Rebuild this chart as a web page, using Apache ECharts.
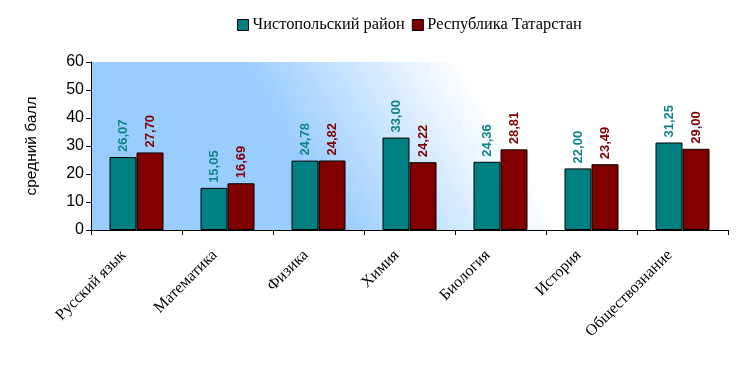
<!DOCTYPE html>
<html><head><meta charset="utf-8">
<script src="https://cdn.jsdelivr.net/npm/echarts@6/dist/echarts.min.js"></script>
<style>html,body{margin:0;padding:0;background:#fff}#c{width:747px;height:365px}</style>
</head><body><div id="c"></div>
<script>
const categories = ['Русский язык','Математика','Физика','Химия','Биология','История','Обществознание'];
const seriesNames = ['Чистопольский район','Республика Татарстан'];
const districtValues = [26.07, 15.05, 24.78, 33.00, 24.36, 22.00, 31.25];
const republicValues = [27.70, 16.69, 24.82, 24.22, 28.81, 23.49, 29.00];
const yTicks = [0, 10, 20, 30, 40, 50, 60];

const chart = echarts.init(document.getElementById('c'));
const fmt = p => p.value.toFixed(2).replace('.', ',');
function mk(name, data, color, labelColor) {
  return {
    name, type: 'bar', data,
    barWidth: 27, barGap: '0%',
    itemStyle: { color, borderColor: '#000', borderWidth: 1 },
    label: { show: true, position: 'top', rotate: 90, align: 'left', verticalAlign: 'middle', distance: 5,
      formatter: fmt, color: labelColor, fontFamily: 'Liberation Sans', fontWeight: 'bold', fontSize: 13 }
  };
}
chart.setOption({
  animation: false,
  legend: {
    top: 17, left: 237, padding: 0, itemWidth: 11, itemHeight: 11, itemGap: 7,
    icon: 'rect',
    itemStyle: { borderColor: '#000', borderWidth: 1 },
    textStyle: { fontFamily: 'Liberation Serif', fontSize: 16.4, color: '#000', padding: [0,0,0,-1] },
    data: seriesNames
  },
  grid: {
    left: 91, right: 19, top: 62, bottom: 135, show: true, borderWidth: 0,
    backgroundColor: { type: 'linear', x: 340, y: 230, x2: 502, y2: 133, global: true,
      colorStops: [{ offset: 0, color: '#99ccff' }, { offset: 1, color: '#ffffff' }] }
  },
  xAxis: {
    type: 'category', data: categories,
    axisLine: { lineStyle: { color: '#000', width: 1 } },
    axisTick: { show: true, length: 5, lineStyle: { color: '#000' } },
    axisLabel: { rotate: 45, margin: 10, padding: [0, 18, 0, 0], fontFamily: 'Liberation Serif', fontSize: 16, color: '#000', interval: 0 }
  },
  yAxis: {
    type: 'value', min: yTicks[0], max: yTicks[yTicks.length-1], interval: 10,
    name: 'средний балл', nameLocation: 'middle', nameGap: 51, nameRotate: 90,
    nameTextStyle: { fontFamily: 'Liberation Sans', fontSize: 15.5, color: '#000' },
    axisLine: { show: true, lineStyle: { color: '#000' } },
    axisTick: { show: true, length: 5, lineStyle: { color: '#000' } },
    splitLine: { show: false },
    axisLabel: { fontFamily: 'Liberation Sans', fontSize: 16, color: '#000', margin: 7 }
  },
  series: [mk(seriesNames[0], districtValues, '#008080', '#0f8585'), mk(seriesNames[1], republicValues, '#800000', '#800000')]
});
</script></body></html>
